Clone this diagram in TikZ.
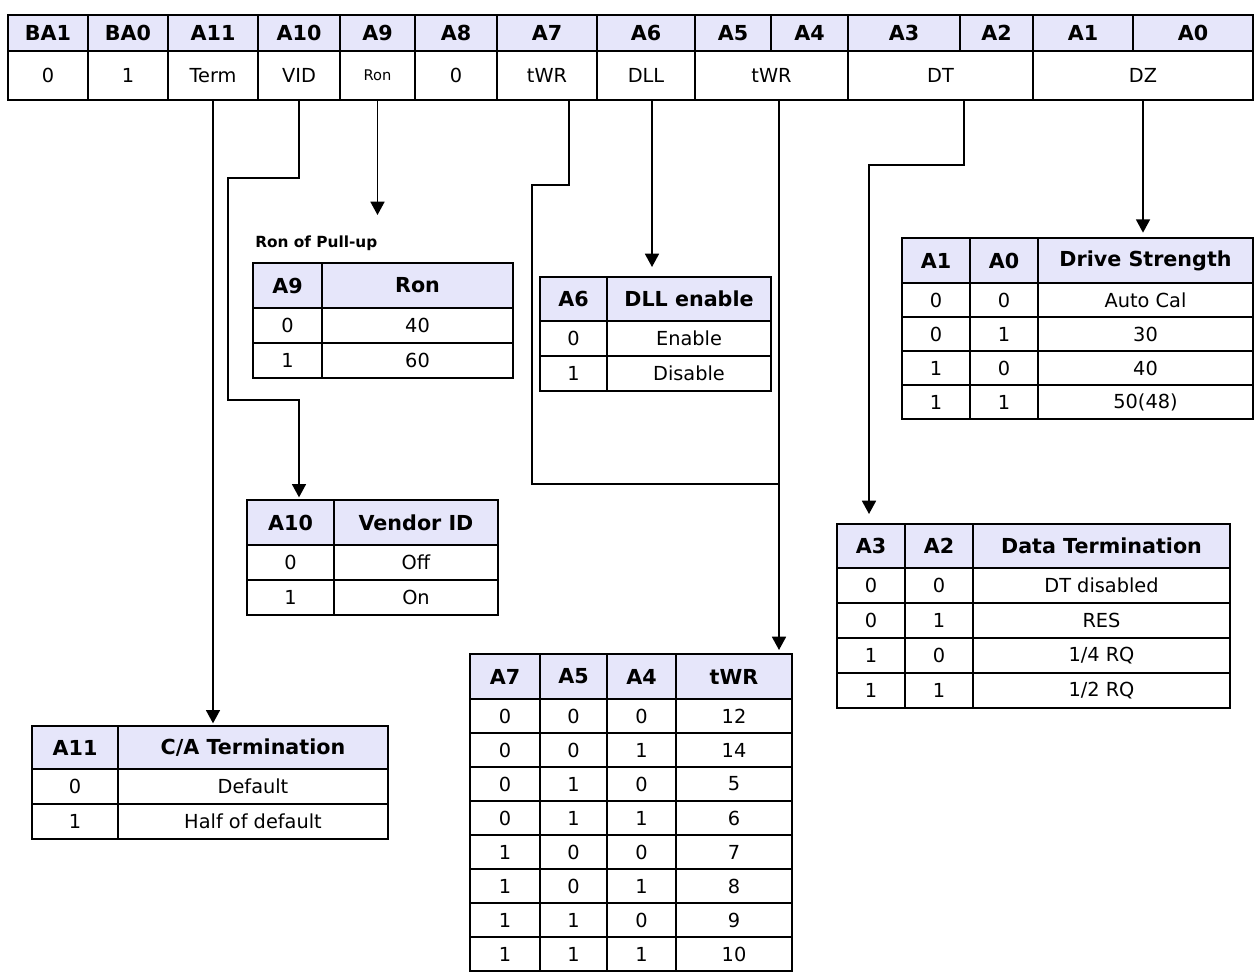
\documentclass[tikz,border=0pt]{standalone}
\usepackage{fontspec}
\setmainfont{DejaVu Sans}
\usetikzlibrary{arrows.meta}
\definecolor{hdrfill}{RGB}{230,230,250}

\begin{document}
\begin{tikzpicture}[x=0.75pt,y=0.75pt,yscale=-1,xscale=1,
	cellbox/.style 2 args={draw, line width=0.9pt, inner sep=0pt, outer sep=0pt, anchor=north west, minimum width=#1*0.75pt, minimum height=#2*0.75pt, font=\fontsize{14.5}{16}\selectfont},
	hdr/.style 2 args={cellbox={#1}{#2}, fill=hdrfill, font=\fontsize{15.5}{17}\selectfont\bfseries},
	frame/.style={line width=1.6pt},
	link/.style={line width=1.3pt},
	wire/.style={link, -{Triangle[width=10.5pt,length=10pt]}}]
	\useasboundingbox (0,0) rectangle (1256,972);
	% register
	\foreach \x/\w/\t [count=\i] in {8/80/BA1, 88/80/BA0, 168/90/A11, 258/82/A10, 340/75/A9, 415/82/A8, 497/100/A7, 597/98/A6, 695/76/A5, 771/77/A4, 848/112/A3, 960/73/A2, 1033/100/A1, 1133/120/A0}
		\node[hdr={\w}{36}] (h\i) at (\x,15) {\t};
	\node[cellbox={80}{49}] (v0) at (8,51) {0};
	\node[cellbox={80}{49}] (v1) at (88,51) {1};
	\node[cellbox={90}{49}] (term) at (168,51) {Term};
	\node[cellbox={82}{49}] (vid) at (258,51) {VID};
	\node[cellbox={75}{49}, font=\fontsize{11}{13}\selectfont] (ron) at (340,51) {Ron};
	\node[cellbox={82}{49}] (v8) at (415,51) {0};
	\node[cellbox={100}{49}] (twra) at (497,51) {tWR};
	\node[cellbox={98}{49}] (dll) at (597,51) {DLL};
	\node[cellbox={153}{49}] (twrb) at (695,51) {tWR};
	\node[cellbox={185}{49}] (dt) at (848,51) {DT};
	\node[cellbox={220}{49}] (dz) at (1033,51) {DZ};
	\draw[frame] (h1.north west) rectangle (dz.south east);
	% Ron
	\node[anchor=base west, inner sep=0pt, font=\fontsize{11.5}{13}\selectfont\bfseries] (rontitle) at (255,247) {Ron of Pull-up};
	\node[hdr={69}{45}] (rona) at (253,263) {A9};
	\node[hdr={191}{45}] (ronb) at (322,263) {Ron};
	\foreach \a/\b [count=\i from 0] in {0/40, 1/60} {
		\node[cellbox={69}{35}] at (253,308+35*\i) {\a};
		\node[cellbox={191}{35}] (ronr\i) at (322,308+35*\i) {\b};
	}
	\draw[frame] (rona.north west) rectangle (ronr1.south east);
	% DLL
	\node[hdr={67}{44}] (dlla) at (540,277) {A6};
	\node[hdr={164}{44}] (dllb) at (607,277) {DLL enable};
	\foreach \a/\b [count=\i from 0] in {0/Enable, 1/Disable} {
		\node[cellbox={67}{35}] at (540,321+35*\i) {\a};
		\node[cellbox={164}{35}] (dllr\i) at (607,321+35*\i) {\b};
	}
	\draw[frame] (dlla.north west) rectangle (dllr1.south east);
	% vendor ID
	\node[hdr={87}{45}] (vena) at (247,500) {A10};
	\node[hdr={164}{45}] (venb) at (334,500) {Vendor ID};
	\foreach \a/\b [count=\i from 0] in {0/Off, 1/On} {
		\node[cellbox={87}{35}] at (247,545+35*\i) {\a};
		\node[cellbox={164}{35}] (venr\i) at (334,545+35*\i) {\b};
	}
	\draw[frame] (vena.north west) rectangle (venr1.south east);
	% C/A termination
	\node[hdr={86}{43}] (caa) at (32,726) {A11};
	\node[hdr={270}{43}] (cab) at (118,726) {C/A Termination};
	\foreach \a/\b [count=\i from 0] in {0/Default, 1/Half of default} {
		\node[cellbox={86}{35}] at (32,769+35*\i) {\a};
		\node[cellbox={270}{35}] (car\i) at (118,769+35*\i) {\b};
	}
	\draw[frame] (caa.north west) rectangle (car1.south east);
	% drive strength
	\node[hdr={68}{45}] (dsa) at (902,238) {A1};
	\node[hdr={68}{45}] (dsb) at (970,238) {A0};
	\node[hdr={215}{45}] (dsc) at (1038,238) {Drive Strength};
	\foreach \a/\b/\c [count=\i from 0] in {0/0/Auto Cal, 0/1/30, 1/0/40, 1/1/50(48)} {
		\node[cellbox={68}{34}] at (902,283+34*\i) {\a};
		\node[cellbox={68}{34}] at (970,283+34*\i) {\b};
		\node[cellbox={215}{34}] (dsr\i) at (1038,283+34*\i) {\c};
	}
	\draw[frame] (dsa.north west) rectangle (dsr3.south east);
	% data termination
	\node[hdr={68}{44}] (dta) at (837,524) {A3};
	\node[hdr={68}{44}] (dtb) at (905,524) {A2};
	\node[hdr={257}{44}] (dtc) at (973,524) {Data Termination};
	\foreach \a/\b/\c [count=\i from 0] in {0/0/DT disabled, 0/1/RES, 1/0/{1/4 RQ}, 1/1/{1/2 RQ}} {
		\node[cellbox={68}{35}] at (837,568+35*\i) {\a};
		\node[cellbox={68}{35}] at (905,568+35*\i) {\b};
		\node[cellbox={257}{35}] (dtr\i) at (973,568+35*\i) {\c};
	}
	\draw[frame] (dta.north west) rectangle (dtr3.south east);
	% write recovery
	\node[hdr={70}{45}] (twa) at (470,654) {A7};
	\node[hdr={67}{45}] (twb) at (540,654) {A5};
	\node[hdr={69}{45}] (twc) at (607,654) {A4};
	\node[hdr={116}{45}] (twd) at (676,654) {tWR};
	\foreach \a/\b/\c/\d [count=\i from 0] in {0/0/0/12, 0/0/1/14, 0/1/0/5, 0/1/1/6, 1/0/0/7, 1/0/1/8, 1/1/0/9, 1/1/1/10} {
		\node[cellbox={70}{34}] at (470,699+34*\i) {\a};
		\node[cellbox={67}{34}] at (540,699+34*\i) {\b};
		\node[cellbox={69}{34}] at (607,699+34*\i) {\c};
		\node[cellbox={116}{34}] (twr\i) at (676,699+34*\i) {\d};
	}
	\draw[frame] (twa.north west) rectangle (twr7.south east);
	% connectors
	\coordinate (vidbend) at (228,178);
	\coordinate (vidturn) at (228,400);
	\coordinate (ronend) at (377,215);
	\coordinate (a7bend) at (532,185);
	\coordinate (twrjoin) at (779,484);
	\coordinate (dtbend) at (869,165);
	\draw[wire, shorten >=2pt] (term.south) -- (term.south |- caa.north);
	\draw[wire, shorten >=2pt] (vid.south) |- (vidbend) -- (vidturn) -| (vid.south |- vena.north);
	\draw[wire] (ron.south) -- (ron.south |- ronend);
	\draw[link] ([xshift=16.5pt]twra.south) |- (a7bend) |- (twrjoin);
	\draw[wire, shorten >=7.5pt] ([xshift=4.5pt]dll.south) -- ([xshift=4.5pt]dll.south |- dlla.north);
	\draw[wire, shorten >=3pt] (twrjoin |- twrb.south) -- (twrjoin) -- (twrjoin |- twd.north);
	\draw[wire, shorten >=7.5pt] ([xshift=17.6pt]dt.south) |- (dtbend) -- (dtbend |- dta.north);
	\draw[wire, shorten >=4pt] (dz.south) -- (dz.south |- dsc.north);
\end{tikzpicture}
\end{document}
